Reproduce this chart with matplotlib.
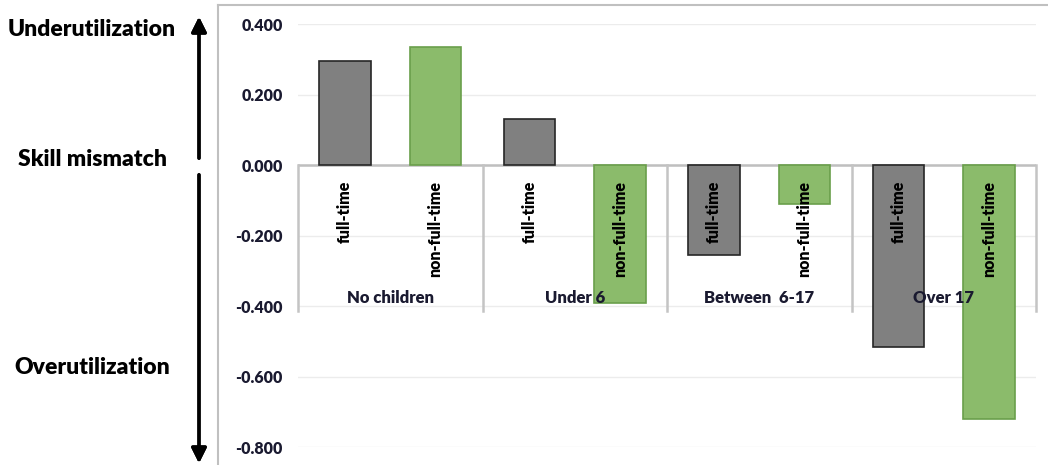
import matplotlib
matplotlib.use("Agg")
from matplotlib import pyplot as plt
from matplotlib.lines import Line2D
import numpy as np

# data
groups = ["No children", "Under 6", "Between  6-17", "Over 17"]
series = ["full-time", "non-full-time"]
full_time = [0.295, 0.131, -0.255, -0.516]
non_full_time = [0.335, -0.392, -0.110, -0.720]
yticks = [0.4, 0.2, 0.0, -0.2, -0.4, -0.6, -0.8]

W, H = 1048, 465
fig = plt.figure(figsize=(W / 100, H / 100), dpi=100)
ax = fig.add_axes([298 / W, 1 - 447 / H, 738 / W, (447 - 24) / H])

x = np.arange(len(groups))
off = 0.245
bw = 0.28
ax.bar(x - off, full_time, bw, color="#808080", edgecolor="#262626", linewidth=1.2, zorder=3)
ax.bar(x + off, non_full_time, bw, color="#8bbb6b", edgecolor="#6a9f4b", linewidth=1.2, zorder=3)

ax.set_xlim(-0.5, 3.5)
ax.set_ylim(-0.8, 0.4)
ax.set_yticks(yticks)
ax.set_yticklabels([f"{v:.3f}" for v in yticks], fontfamily="Lato", fontweight="heavy",
                   fontsize=11.5, color="#1a1a30")
ax.tick_params(axis="y", length=0, pad=11)
ax.set_xticks([])
for s in ax.spines.values():
    s.set_visible(False)
ax.grid(axis="y", color="#ececec", linewidth=1, zorder=0)

# category axis at zero
ax.axhline(0, color="#bfbfbf", linewidth=1.8, zorder=2)
for b in np.arange(-0.5, 4.0, 1.0):
    ax.plot([b, b], [0, -0.415], color="#c4c4c4", linewidth=1.8, zorder=2, clip_on=False)

for i in range(len(groups)):
    for dx, name in [(-off, series[0]), (off, series[1])]:
        ax.text(i + dx, -0.045, name, rotation=90, ha="center", va="top",
                fontfamily="Lato", fontweight="heavy", fontsize=11.5, color="black", zorder=4)
    ax.text(i, -0.377, groups[i], ha="center", va="center", fontfamily="Lato",
            fontweight="heavy", fontsize=12, color="#1a1a30", zorder=4)

# left side labels and arrows
fig.text(92 / W, 1 - 30 / H, "Underutilization", ha="center", va="center",
         fontfamily="Lato", fontweight="heavy", fontsize=16.5)
fig.text(93 / W, 1 - 159 / H, "Skill mismatch", ha="center", va="center",
         fontfamily="Lato", fontweight="heavy", fontsize=16.5)
fig.text(92 / W, 1 - 367 / H, "Overutilization", ha="center", va="center",
         fontfamily="Lato", fontweight="heavy", fontsize=16.5)

arrow = dict(arrowstyle="-|>,head_length=0.9,head_width=0.45", color="black", lw=2.4)
fig.add_artist(plt.annotate("", xy=(199 / W, 1 - 14 / H), xytext=(199 / W, 1 - 161 / H),
                            xycoords="figure fraction", arrowprops=arrow))
fig.add_artist(plt.annotate("", xy=(199 / W, 1 - 466 / H), xytext=(199 / W, 1 - 172 / H),
                            xycoords="figure fraction", arrowprops=arrow))

# chart frame
fig.add_artist(Line2D([218 / W, 1], [1 - 5 / H, 1 - 5 / H], color="#c0c0c0", lw=1.5))
fig.add_artist(Line2D([218 / W, 218 / W], [1 - 5 / H, 0], color="#c0c0c0", lw=1.5))

fig.savefig("out.png", dpi=100)
